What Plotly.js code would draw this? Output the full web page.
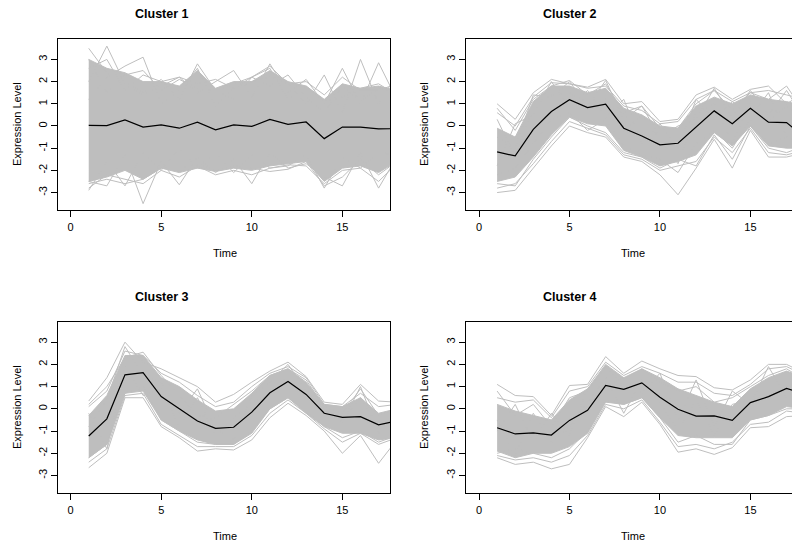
<!DOCTYPE html>
<html>
<head>
<meta charset="utf-8">
<script src="https://cdn.plot.ly/plotly-3.0.1.min.js"></script>
<style>html,body{margin:0;padding:0;background:#fff;}#chart{width:800px;height:548px;}</style>
</head>
<body>
<div id="chart"></div>
<script>
// ---------------- data ----------------
const time = [1,2,3,4,5,6,7,8,9,10,11,12,13,14,15,16,17,18];
const clusterNames = ["Cluster 1","Cluster 2","Cluster 3","Cluster 4"];
const xTicks = [0,5,10,15];
const yTicks = [-3,-2,-1,0,1,2,3];

// black mean profiles
const c1Mean = [0.03,0.02,0.27,-0.05,0.05,-0.10,0.17,-0.17,0.05,-0.02,0.30,0.07,0.18,-0.57,-0.05,-0.05,-0.13,-0.12];
const c2Mean = [-1.17,-1.35,-0.15,0.65,1.18,0.83,0.98,-0.10,-0.45,-0.85,-0.78,-0.05,0.68,0.10,0.80,0.17,0.15,-0.50];
const c3Mean = [-1.22,-0.45,1.53,1.63,0.55,0.02,-0.55,-0.88,-0.83,-0.15,0.72,1.23,0.65,-0.20,-0.38,-0.35,-0.72,-0.55];
const c4Mean = [-0.85,-1.13,-1.08,-1.18,-0.52,-0.07,1.05,0.88,1.17,0.52,-0.02,-0.33,-0.32,-0.52,0.28,0.55,0.92,0.65];

// dense grey core of each cluster (upper / lower edge)
const c1Upper = [3.0,2.6,2.4,2.0,2.0,1.8,2.5,1.7,2.0,2.0,2.5,2.0,1.8,1.2,1.9,1.7,1.8,1.6];
const c1Lower = [-2.5,-2.3,-2.0,-2.4,-1.9,-2.1,-1.9,-2.05,-1.9,-2.0,-1.8,-1.7,-1.6,-2.5,-1.9,-1.8,-2.1,-1.6];
const c2Upper = [-0.1,-0.5,1.1,1.8,1.8,1.5,1.7,0.8,0.5,0.0,-0.1,0.9,1.3,1.0,1.4,1.2,1.1,0.9];
const c2Lower = [-2.5,-2.3,-1.4,-0.4,0.4,0.1,0.0,-1.1,-1.4,-1.8,-1.6,-1.3,-0.3,-0.9,0.0,-0.9,-1.0,-1.0];
const c3Upper = [-0.3,0.6,2.4,2.4,1.4,1.0,0.4,-0.1,0.0,0.7,1.5,1.8,1.2,0.2,0.1,0.5,-0.2,0.0];
const c3Lower = [-2.2,-1.6,0.7,0.8,-0.5,-1.0,-1.4,-1.6,-1.6,-1.1,0.0,0.5,-0.2,-0.8,-1.1,-1.1,-1.4,-1.3];
const c4Upper = [0.2,-0.1,-0.3,-0.5,0.4,0.9,2.0,1.4,1.8,1.4,0.9,0.6,0.3,0.1,0.9,1.4,1.7,1.4];
const c4Lower = [-1.9,-2.2,-2.0,-2.0,-1.7,-1.1,0.3,0.2,0.5,-0.4,-1.2,-1.3,-1.3,-1.3,-0.5,-0.3,0.1,0.0];

// individual grey profiles that stand out from the core
const c1Lines = [
  [3.5,2.4,2.0,1.5,2.1,1.2,2.8,1.6,1.2,2.2,1.8,2.3,1.3,0.6,1.8,1.1,1.7,1.6],
  [2.0,3.6,1.9,1.4,1.8,2.2,1.5,2.0,2.5,1.3,2.8,1.5,2.1,1.0,2.6,1.0,2.85,1.2],
  [1.2,2.2,2.7,3.1,1.0,1.6,2.6,0.9,1.7,2.0,2.2,1.9,1.0,2.3,0.6,3.0,1.0,2.3],
  [3.0,1.5,2.3,2.5,1.6,2.1,1.7,1.6,1.9,2.2,2.6,1.2,1.8,1.1,1.3,1.7,1.9,1.4],
  [2.6,3.0,1.6,2.3,2.0,2.2,1.9,2.1,1.7,2.2,2.7,1.9,2.0,1.4,2.2,1.6,1.6,1.9],
  [-2.9,-1.6,-2.7,-1.2,-2.0,-1.0,-1.9,-1.2,-2.1,-1.3,-1.9,-1.8,-1.3,-2.8,-1.4,-1.9,-1.2,-1.3],
  [-2.5,-2.7,-1.3,-3.5,-1.6,-2.65,-1.4,-2.1,-1.5,-2.6,-1.2,-1.9,-1.7,-2.3,-2.7,-1.2,-2.8,-1.4],
  [-2.6,-2.4,-2.6,-2.4,-1.9,-1.9,-1.7,-2.0,-1.8,-1.9,-2.05,-1.95,-1.6,-2.7,-2.3,-1.5,-2.2,-1.6],
  [-2.8,-2.2,-2.4,-2.6,-2.0,-2.3,-1.8,-2.2,-2.0,-2.2,-1.9,-1.75,-1.8,-2.6,-2.0,-1.9,-2.5,-1.7]
];
const c2Lines = [
  [1.0,0.3,1.5,2.1,1.9,1.75,2.1,1.0,1.1,0.2,0.3,1.4,1.75,1.2,1.65,1.8,1.0,1.5],
  [-3.0,-2.9,-1.9,-0.9,0.0,-0.3,-0.5,-1.4,-1.6,-2.2,-3.1,-1.9,-0.6,-1.9,-0.2,-1.4,-1.4,-1.2],
  [0.8,-0.2,1.2,1.8,2.05,1.4,1.9,0.6,0.9,-0.1,-0.1,1.0,1.6,0.7,1.5,1.2,1.8,0.6],
  [-2.6,-2.7,-1.5,-0.5,0.4,0.0,-0.3,-1.2,-1.4,-1.9,-1.5,-1.8,-0.4,-1.5,0.0,-1.0,-1.2,-0.9],
  [0.3,-1.4,0.9,1.4,1.5,1.0,1.2,-0.2,0.5,-0.6,-1.7,0.6,1.0,-0.8,1.1,0.2,0.9,0.2],
  [-1.8,0.1,0.5,2.0,0.8,1.6,0.4,1.2,-0.8,0.1,-1.0,1.2,0.3,1.1,0.4,1.5,-0.5,1.0],
  [0.6,0.0,1.3,1.95,1.9,1.7,1.8,0.9,0.7,0.1,0.2,1.2,1.6,1.1,1.5,1.6,1.4,1.2],
  [-2.8,-2.6,-1.7,-0.7,0.2,-0.1,-0.4,-1.3,-1.5,-2.0,-1.8,-1.6,-0.5,-1.2,-0.1,-1.2,-1.3,-1.1],
  [-0.5,-1.0,1.4,1.3,2.0,0.9,2.05,0.3,0.9,-0.5,0.0,0.3,1.7,0.4,1.6,0.5,1.6,0.3],
  [-2.2,-1.9,-0.8,0.3,0.6,-0.2,0.3,-0.9,-1.3,-1.5,-2.1,-0.8,-0.2,-1.0,0.3,-0.8,-0.5,-0.9]
];
const c3Lines = [
  [0.35,1.4,3.0,2.1,1.8,1.4,1.0,0.3,0.65,1.2,1.7,2.1,1.45,0.3,0.2,1.1,0.35,0.3],
  [-2.65,-2.0,0.5,0.5,-0.8,-1.3,-1.9,-1.8,-1.85,-1.4,-0.4,0.25,-0.3,-1.0,-2.0,-1.2,-2.45,-1.4],
  [0.2,1.0,2.3,2.55,1.5,0.6,-0.3,-0.4,0.2,0.8,1.5,1.8,1.3,0.1,-0.2,0.9,-0.3,0.0],
  [-2.2,-1.6,0.7,1.0,-0.5,-1.0,-1.5,-1.6,-1.6,-1.0,0.0,0.5,-0.1,-0.8,-1.3,-1.0,-1.5,-1.2],
  [-0.2,-1.8,1.9,0.6,0.9,-0.8,0.5,-1.2,-0.4,0.3,0.6,1.5,0.9,-0.3,-0.5,0.5,-0.9,-0.5],
  [0.1,0.8,2.6,2.4,1.6,1.2,0.6,0.1,0.3,1.0,1.6,1.9,1.4,0.2,0.1,0.7,0.1,0.2],
  [-2.4,-1.8,0.6,0.7,-0.7,-1.2,-1.7,-1.7,-1.7,-1.2,-0.2,0.4,-0.2,-0.9,-1.5,-1.1,-1.6,-1.3],
  [-0.8,0.4,2.8,1.5,1.2,-0.2,0.9,-0.9,-1.4,0.6,1.2,2.0,0.8,0.0,-0.6,1.0,-1.1,-0.2]
];
const c4Lines = [
  [1.1,0.6,0.55,-0.3,1.05,1.1,2.35,1.6,2.15,1.8,1.5,1.45,0.95,0.85,1.3,2.0,2.0,1.6],
  [-2.2,-2.5,-2.4,-2.7,-2.5,-1.3,0.1,-0.35,0.3,-0.7,-1.95,-1.8,-2.05,-1.75,-0.85,-0.8,-0.35,-0.3],
  [0.8,-0.3,0.2,-0.8,0.5,0.8,1.9,1.0,1.8,1.2,0.8,1.0,0.3,0.5,1.0,1.5,1.8,1.3],
  [-2.0,-1.8,-2.0,-2.2,-1.8,-1.0,0.4,0.2,0.5,-0.4,-1.5,-1.2,-1.6,-1.6,-0.5,-0.3,0.0,0.0],
  [-0.5,-2.1,-0.2,-1.5,-0.8,0.3,1.4,-0.2,1.3,0.3,-1.0,0.4,-1.2,0.2,0.4,0.6,1.0,0.5],
  [0.5,0.3,0.4,-0.4,0.8,1.0,2.1,1.5,1.9,1.6,1.2,1.2,0.7,0.6,1.1,1.8,1.9,1.5],
  [-2.1,-2.3,-2.2,-2.4,-2.1,-1.2,0.2,0.0,0.4,-0.6,-1.7,-1.6,-1.8,-1.5,-0.7,-0.6,-0.1,-0.2],
  [-1.0,0.2,-1.5,-0.2,-1.2,0.9,1.0,1.4,0.7,1.6,-0.5,1.3,-0.8,0.8,0.2,1.9,0.5,1.2]
];

// ---------------- build ----------------
const W = 800, H = 548;
const px = x => x / W;
const py = y => 1 - y / H;
const GREY = '#BEBEBE';
const FONT = 'Liberation Sans, Arial, Helvetica, sans-serif';

const panels = [
  {mean:c1Mean, up:c1Upper, lo:c1Lower, lines:c1Lines, x0:58.3, x1:390, y0:39, y1:210.3, xr:[-0.68,17.63], right:true},
  {mean:c2Mean, up:c2Upper, lo:c2Lower, lines:c2Lines, x0:466, x1:792, y0:39, y1:210.3, xr:[-0.72,17.3], right:false},
  {mean:c3Mean, up:c3Upper, lo:c3Lower, lines:c3Lines, x0:58.3, x1:390, y0:321.7, y1:493.3, xr:[-0.68,17.63], right:true},
  {mean:c4Mean, up:c4Upper, lo:c4Lower, lines:c4Lines, x0:466, x1:792, y0:321.7, y1:493.3, xr:[-0.72,17.3], right:false}
];

const traces = [];
const layout = {
  width: W, height: H,
  margin: {l:0, r:0, t:0, b:0},
  paper_bgcolor: '#fff', plot_bgcolor: '#fff',
  showlegend: false,
  font: {family: FONT, color: '#000', size: 11},
  annotations: []
};

panels.forEach((p, i) => {
  const n = i + 1;
  const xa = n === 1 ? 'x' : 'x' + n;
  const ya = n === 1 ? 'y' : 'y' + n;
  // core band
  traces.push({x: time, y: p.lo, xaxis: xa, yaxis: ya, mode: 'lines',
    line: {color: GREY, width: 1}, hoverinfo: 'skip'});
  traces.push({x: time, y: p.up, xaxis: xa, yaxis: ya, mode: 'lines', fill: 'tonexty',
    fillcolor: GREY, line: {color: GREY, width: 1}, hoverinfo: 'skip'});
  p.lines.forEach(l => traces.push({x: time, y: l, xaxis: xa, yaxis: ya, mode: 'lines',
    line: {color: GREY, width: 1}, hoverinfo: 'skip'}));
  traces.push({x: time, y: p.mean, xaxis: xa, yaxis: ya, mode: 'lines',
    line: {color: '#000', width: 1.2}});

  const xKey = n === 1 ? 'xaxis' : 'xaxis' + n;
  const yKey = n === 1 ? 'yaxis' : 'yaxis' + n;
  layout[xKey] = {
    domain: [px(p.x0), px(p.x1)], anchor: ya, range: p.xr,
    showgrid: false, zeroline: false, showline: true, mirror: true,
    linecolor: '#000', linewidth: 1,
    ticks: 'outside', ticklen: 6, tickcolor: '#000', tickwidth: 1,
    tickvals: xTicks, ticktext: xTicks.map(String),
    tickfont: {size: 11, family: FONT, color: '#000'}, fixedrange: true
  };
  layout[yKey] = {
    domain: [py(p.y1), py(p.y0)], anchor: xa, range: [-3.8, 3.92],
    showgrid: false, zeroline: false, showline: true, mirror: p.right,
    linecolor: '#000', linewidth: 1,
    ticks: 'outside', ticklen: 6, tickcolor: '#000', tickwidth: 1,
    tickvals: yTicks, ticktext: yTicks.map(String), tickangle: -90,
    tickfont: {size: 11, family: FONT, color: '#000'}, fixedrange: true
  };
  const dx = p.x0 < 400 ? 0 : 408;
  const dy = p.y0 < 100 ? 0 : 283;
  layout.annotations.push({text: '<b>' + clusterNames[i] + '</b>', xref: 'paper', yref: 'paper',
    x: px(162 + dx), y: py(14 + dy), xanchor: 'center', yanchor: 'middle', showarrow: false,
    font: {size: 12.5, family: FONT, color: '#000'}});
  layout.annotations.push({text: 'Time', xref: 'paper', yref: 'paper',
    x: px(225 + dx), y: py(253 + dy), xanchor: 'center', yanchor: 'middle', showarrow: false,
    font: {size: 11, family: FONT, color: '#000'}});
  layout.annotations.push({text: 'Expression Level', xref: 'paper', yref: 'paper', textangle: -90,
    x: px(17 + (dx ? 407 : 0)), y: py(124 + dy), xanchor: 'center', yanchor: 'middle', showarrow: false,
    font: {size: 11, family: FONT, color: '#000'}});
});

Plotly.newPlot('chart', traces, layout, {staticPlot: true, displayModeBar: false});
</script>
</body>
</html>
